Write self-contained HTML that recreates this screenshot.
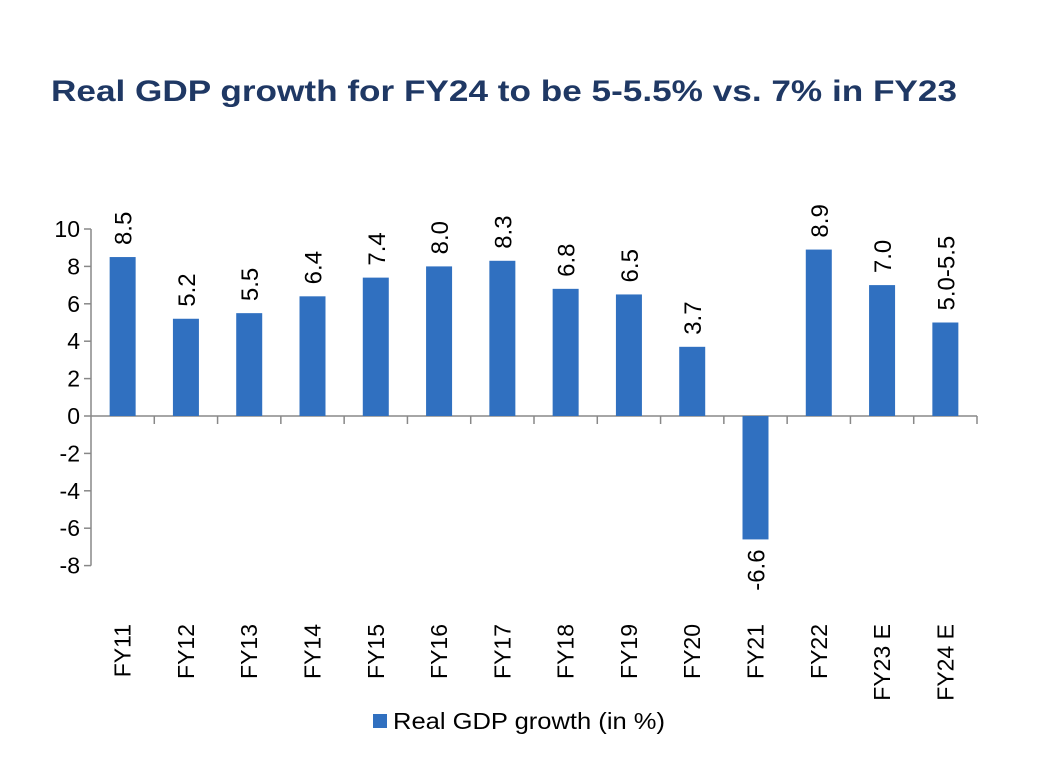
<!DOCTYPE html>
<html><head><meta charset="utf-8"><style>
body{margin:0;background:#fff;width:1062px;height:772px;overflow:hidden;font-family:"Liberation Sans",sans-serif}
svg text{font-family:"Liberation Sans",sans-serif}
</style></head><body>
<svg id="c" width="1062" height="772">
<text x="51" y="101" font-size="30" font-weight="bold" fill="#1f3864" textLength="906" lengthAdjust="spacingAndGlyphs">Real GDP growth for FY24 to be 5-5.5% vs. 7% in FY23</text>
<g>
<rect x="373" y="714" width="14" height="14" fill="#3070c0"/>
<text x="393" y="729" font-size="23" fill="#000" textLength="272" lengthAdjust="spacingAndGlyphs">Real GDP growth (in %)</text>
</g>
</svg>
<script>
const categories=["FY11","FY12","FY13","FY14","FY15","FY16","FY17","FY18","FY19","FY20","FY21","FY22","FY23 E","FY24 E"];
const values=[8.5,5.2,5.5,6.4,7.4,8.0,8.3,6.8,6.5,3.7,-6.6,8.9,7.0,5.0];
const valueLabels=["8.5","5.2","5.5","6.4","7.4","8.0","8.3","6.8","6.5","3.7","-6.6","8.9","7.0","5.0-5.5"];
const yTicks=[10,8,6,4,2,0,-2,-4,-6,-8];
const svg=document.getElementById('c');
const NS='http://www.w3.org/2000/svg';
const x0=91,x1=977,zeroY=416,unit=18.7;
const step=(x1-x0)/categories.length;
const y=v=>zeroY-v*unit;
const xc=i=>x0+step*(i+0.5);
function mk(t,a){const e=document.createElementNS(NS,t);for(const k in a)e.setAttribute(k,a[k]);svg.appendChild(e);return e;}
let e=mk('line',{x1:x0,y1:y(10),x2:x0,y2:y(-8),stroke:'#888','stroke-width':1.5});


yTicks.forEach(t=>{
 let l=mk('line',{x1:x0-7,y1:y(t),x2:x0,y2:y(t),stroke:'#888','stroke-width':1.5});
 
 
 let tx=mk('text',{x:x0-11,y:y(t)+8,'font-size':23,'text-anchor':'end',fill:'#000'});
 tx.textContent=t;
 
 
});
e=mk('line',{x1:x0,y1:zeroY,x2:x1,y2:zeroY,stroke:'#888','stroke-width':1.5});


for(let i=1;i<=categories.length;i++){
 let l=mk('line',{x1:x0+step*i,y1:zeroY,x2:x0+step*i,y2:zeroY+8,stroke:'#888','stroke-width':1.5});
 
 
}
categories.forEach((c,i)=>{
 const v=values[i],cx=xc(i),bw=26;
 let r=mk('rect',{x:cx-bw/2,y:Math.min(y(v),zeroY),width:bw,height:Math.abs(y(v)-zeroY),fill:'#3070c0'});
 
 
 let ly=v>=0?y(v)-12:y(v)+10;
 let t=mk('text',{x:0,y:0,'font-size':24,fill:'#000','text-anchor':v>=0?'start':'end',transform:`translate(${cx+9},${ly}) rotate(-90)`});
 t.textContent=valueLabels[i];
 
 
 let ct=mk('text',{x:0,y:0,'font-size':23,fill:'#000','text-anchor':'end',transform:`translate(${cx+8},624) rotate(-90)`});
 ct.textContent=c;
 
 
});
</script>
</body></html>
